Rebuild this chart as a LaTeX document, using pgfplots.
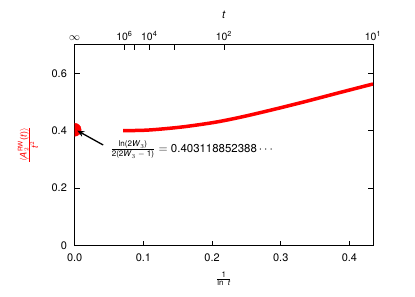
\documentclass[border=0pt]{standalone}
\usepackage{fontspec}
\setmainfont{TeX Gyre Heros}
\usepackage{amsmath}
\usepackage{pgfplots}
\pgfplotsset{compat=1.18}
\usetikzlibrary{arrows.meta}
\begin{document}
\fontsize{11}{13}\selectfont
\begin{tikzpicture}
\begin{axis}[
  scale only axis, width=298.3bp, height=201bp,
  xmin=0, xmax=0.4342945, ymin=0, ymax=0.7,
  axis line style={line width=1bp},
  tick style={black, line width=0.6bp},
  major tick length=5bp,
  tick align=inside,
  xtick pos=bottom, ytick pos=both,
  xtick={0,0.1,0.2,0.3,0.4}, xticklabels={0.0,0.1,0.2,0.3,0.4},
  ytick={0,0.2,0.4,0.6}, yticklabels={0,0.2,0.4,0.6},
  /pgf/number format/assume math mode=true,
  ticklabel style={font=\fontsize{11}{13}\selectfont},
  xticklabel style={yshift=-4bp},
  yticklabel style={xshift=-4bp},
  xlabel={\fontsize{12}{14}\selectfont$\frac{\text{1}}{\text{ln \ \textit{t}}}$},
  xlabel style={at={(axis description cs:0.5,-0.165)}, anchor=center},
  ylabel={\fontsize{13}{15}\selectfont\textcolor{red}{$\frac{\langle \textit{A}_2^{\text{RW}}\text{(\textit{t})}\rangle}{\textit{t}^2}$}},
  ylabel style={at={(axis description cs:-0.157,0.5)}, anchor=center},
]
\addplot[red, line width=3.5bp, smooth] coordinates {
  (0.0705,0.400) (0.1068,0.402) (0.1553,0.4125) (0.2036,0.4289) (0.2423,0.4473)
  (0.2882,0.4730) (0.3367,0.5019) (0.3851,0.5322) (0.4343,0.5625)
};
\addplot[red, only marks, mark=*, mark size=6.5bp, clip mode=individual] coordinates {(0,0.403)};
\draw[-{Stealth[length=7bp,width=6bp]}, line width=1.3bp] (axis cs:0.0415,0.350) -- (axis cs:0.0038,0.400);
\node[anchor=west, inner sep=0pt] at (axis cs:0.052,0.335)
  {\fontsize{11.5}{13}\selectfont$\frac{\text{ln(2\textit{W}}_3\text{)}}{\text{2(2\textit{W}}_3\text{ $-$ 1)}} = \text{0.403118852388} \cdots$};
\end{axis}
\begin{axis}[
  scale only axis, width=298.3bp, height=201bp,
  xmin=0, xmax=0.4342945, ymin=0, ymax=0.7,
  axis x line*=top, hide y axis,
  axis line style={line width=1bp},
  tick style={black, line width=0.6bp},
  major tick length=5bp,
  tick align=inside,
  xtick={0.0723824,0.0868589,0.1085736,0.1447648,0.2171472,0.4342945},
  xticklabels={10\textsuperscript{6},,10\textsuperscript{4},,10\textsuperscript{2},10\textsuperscript{1}},
  extra x ticks={0}, extra x tick labels={$\infty$},
  extra x tick style={major tick length=0pt},
  /pgf/number format/assume math mode=true,
  ticklabel style={font=\fontsize{10.5}{12}\selectfont},
  xlabel={\fontsize{11}{13}\selectfont\textit{t}},
  xlabel style={at={(axis description cs:0.5,1.145)}, anchor=center},
]
\end{axis}
\pgfresetboundingbox
\path[use as bounding box] (-74.7bp,-51.5bp) rectangle (340.3bp,245.5bp);
\end{tikzpicture}
\end{document}
